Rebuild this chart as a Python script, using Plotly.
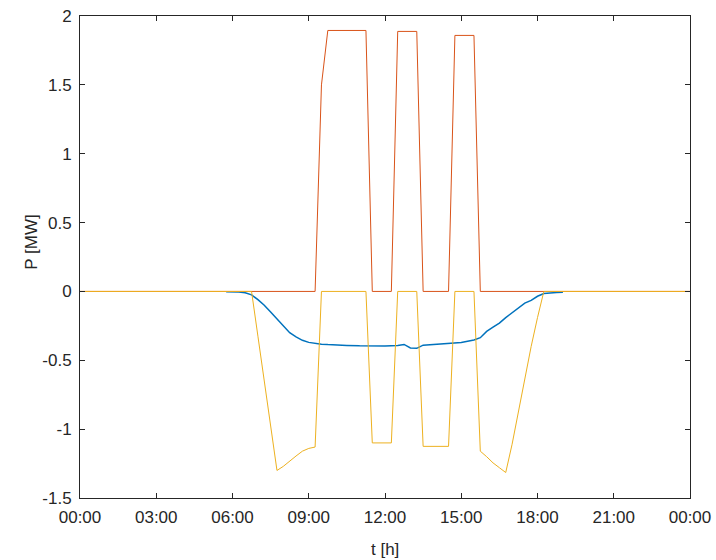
import plotly.graph_objects as go

# Time in hours of the day
blue_t = [5.75, 6.0, 6.25, 6.5, 6.75, 7.0, 7.25, 7.5, 7.75, 8.0, 8.25, 8.5, 8.75,
          9.0, 9.25, 9.5, 9.75, 10.0, 10.5, 11.0, 11.5, 12.0, 12.5, 12.75, 13.0,
          13.25, 13.5, 13.75, 14.0, 14.5, 15.0, 15.25, 15.5, 15.75, 16.0, 16.25,
          16.5, 16.75, 17.0, 17.25, 17.5, 17.75, 18.0, 18.25, 18.5, 18.75, 19.0]
blue_p = [-0.003, -0.003, -0.005, -0.01, -0.025, -0.06, -0.10, -0.15, -0.20, -0.25,
          -0.30, -0.33, -0.355, -0.37, -0.378, -0.383, -0.386, -0.389, -0.392,
          -0.395, -0.397, -0.397, -0.392, -0.385, -0.41, -0.413, -0.39, -0.387,
          -0.383, -0.378, -0.37, -0.362, -0.353, -0.336, -0.29, -0.26, -0.23,
          -0.19, -0.155, -0.12, -0.085, -0.065, -0.035, -0.015, -0.01, -0.008, -0.006]

orange_t = [0, 9.25, 9.5, 9.75, 11.25, 11.5, 12.25, 12.5, 13.25, 13.5, 14.5, 14.75,
            15.5, 15.75, 24]
orange_p = [0, 0, 1.5, 1.895, 1.895, 0, 0, 1.888, 1.888, 0, 0, 1.859, 1.859, 0, 0]

yellow_t = [0, 6.75, 7.0, 7.25, 7.5, 7.75, 8.0, 8.25, 8.5, 8.75, 9.0, 9.25, 9.5,
            11.25, 11.5, 12.25, 12.5, 13.25, 13.5, 14.5, 14.75, 15.5, 15.75, 16.0,
            16.25, 16.5, 16.75, 17.0, 17.25, 17.5, 17.75, 18.0, 18.25, 24]
yellow_p = [0, 0, -0.325, -0.65, -0.975, -1.30, -1.27, -1.23, -1.195, -1.16, -1.14,
            -1.13, 0, 0, -1.10, -1.10, 0, 0, -1.125, -1.125, 0, 0, -1.16, -1.20,
            -1.245, -1.28, -1.315, -1.11, -0.87, -0.62, -0.40, -0.19, 0, 0]

x_ticks = [0, 3, 6, 9, 12, 15, 18, 21, 24]
x_labels = ["00:00", "03:00", "06:00", "09:00", "12:00", "15:00", "18:00", "21:00", "00:00"]
y_ticks = [-1.5, -1, -0.5, 0, 0.5, 1, 1.5, 2]
y_labels = ["-1.5", "-1", "-0.5", "0", "0.5", "1", "1.5", "2"]

FONT = "Liberation Sans, Arial, Helvetica, sans-serif"
TXT = "#262626"

fig = go.Figure()
fig.add_trace(go.Scatter(x=blue_t, y=blue_p, mode="lines",
                         line=dict(color="#0072BD", width=1.5)))
fig.add_trace(go.Scatter(x=orange_t, y=orange_p, mode="lines",
                         line=dict(color="#D95319", width=1)))
fig.add_trace(go.Scatter(x=yellow_t, y=yellow_p, mode="lines",
                         line=dict(color="#EDB120", width=1)))

axis_common = dict(
    showgrid=False, zeroline=False, showline=True, linecolor=TXT, linewidth=1,
    mirror="ticks", ticks="inside", ticklen=5, tickwidth=1, tickcolor=TXT,
    tickfont=dict(family=FONT, size=17, color=TXT), automargin=False,
)

fig.update_layout(
    width=716, height=560,
    margin=dict(l=80, r=26, t=16, b=62),
    paper_bgcolor="white", plot_bgcolor="white",
    showlegend=False,
    xaxis=dict(range=[0, 24], tickmode="array", tickvals=x_ticks, ticktext=x_labels,
               ticklabelstandoff=4, **axis_common),
    yaxis=dict(range=[-1.5, 2], tickmode="array", tickvals=y_ticks, ticktext=y_labels,
               ticklabelstandoff=4, **axis_common),
    annotations=[
        dict(text="t [h]", xref="paper", yref="paper", x=0.5, y=-0.106,
             xanchor="center", yanchor="middle", showarrow=False,
             font=dict(family=FONT, size=17, color=TXT)),
        dict(text="P [MW]", xref="paper", yref="paper", x=-0.08, y=0.53,
             xanchor="center", yanchor="middle", showarrow=False, textangle=-90,
             font=dict(family=FONT, size=17, color=TXT)),
    ],
)

fig.write_html("out.html")
